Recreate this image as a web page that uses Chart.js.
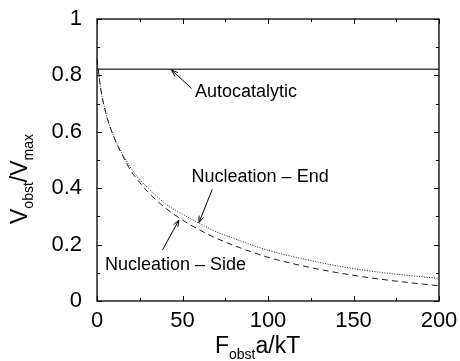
<!DOCTYPE html>
<html>
<head>
<meta charset="utf-8">
<script src="https://cdn.jsdelivr.net/npm/chart.js@4"></script>
<style>
  html, body { margin: 0; padding: 0; background: #fff; }
  #wrap { width: 460px; height: 361px; }
</style>
</head>
<body>
<div id="wrap"><canvas id="chart" width="460" height="361"></canvas></div>
<script>
// Data
const forceX = [0, 2, 5, 10, 15, 20, 25, 30, 40, 50, 60, 70, 80, 90, 100, 120, 140, 160, 180, 200];
const endValues = [0.86, 0.76, 0.67, 0.58, 0.52, 0.47, 0.43, 0.40, 0.345, 0.308, 0.275, 0.245, 0.222, 0.200, 0.180, 0.150, 0.125, 0.106, 0.092, 0.080];
const sideValues = [0.86, 0.76, 0.67, 0.58, 0.515, 0.46, 0.42, 0.385, 0.33, 0.287, 0.252, 0.222, 0.197, 0.175, 0.155, 0.125, 0.101, 0.082, 0.067, 0.054];
const autoX = [0, 200];
const autoValues = [0.822, 0.822];
const xTicks = [0, 50, 100, 150, 200];
const yTicks = [0, 0.2, 0.4, 0.6, 0.8, 1];

// Labels with arrows (data coordinates)
const labels = [
  { text: 'Autocatalytic', x: 57.3, y: 0.724, from: [55.3, 0.754], to: [43.6, 0.819] },
  { text: 'Nucleation \u2013 End', x: 55.3, y: 0.423, from: [67.4, 0.396], to: [59.6, 0.278] },
  { text: 'Nucleation \u2013 Side', x: 4.7, y: 0.11, from: [38.3, 0.181], to: [47.9, 0.287] }
];

const FONT = '"Liberation Sans", Arial, Helvetica, sans-serif';

function pts(xs, ys) {
  return xs.map((x, i) => ({ x: x, y: ys[i] }));
}

// Frame, inward ticks, arrow labels and axis titles (gnuplot look)
const decorPlugin = {
  id: 'decor',
  afterDraw(chart) {
    const ctx = chart.ctx;
    const area = chart.chartArea;
    const xs = chart.scales.x, ys = chart.scales.y;
    ctx.save();
    ctx.strokeStyle = '#000';
    ctx.lineWidth = 1.3;
    ctx.strokeRect(area.left, area.top, area.right - area.left, area.bottom - area.top);

    ctx.lineWidth = 1;
    for (let v = 0; v <= 200; v += 25) {
      const px = Math.round(xs.getPixelForValue(v)) + 0.5;
      const len = v % 50 === 0 ? 5 : 3;
      ctx.beginPath();
      ctx.moveTo(px, area.bottom); ctx.lineTo(px, area.bottom - len);
      ctx.moveTo(px, area.top); ctx.lineTo(px, area.top + len);
      ctx.stroke();
    }
    for (let i = 0; i <= 10; i++) {
      const py = Math.round(ys.getPixelForValue(i / 10)) + 0.5;
      const len = i % 2 === 0 ? 5 : 3;
      ctx.beginPath();
      ctx.moveTo(area.left, py); ctx.lineTo(area.left + len, py);
      ctx.moveTo(area.right, py); ctx.lineTo(area.right - len, py);
      ctx.stroke();
    }

    // labels + arrows
    ctx.fillStyle = '#000';
    ctx.font = '18px ' + FONT;
    ctx.textBaseline = 'alphabetic';
    ctx.textAlign = 'left';
    labels.forEach(l => {
      ctx.fillText(l.text, xs.getPixelForValue(l.x), ys.getPixelForValue(l.y));
      const x1 = xs.getPixelForValue(l.from[0]), y1 = ys.getPixelForValue(l.from[1]);
      const x2 = xs.getPixelForValue(l.to[0]), y2 = ys.getPixelForValue(l.to[1]);
      const ang = Math.atan2(y2 - y1, x2 - x1);
      ctx.lineWidth = 1;
      ctx.beginPath();
      ctx.moveTo(x1, y1); ctx.lineTo(x2, y2);
      ctx.moveTo(x2, y2); ctx.lineTo(x2 - 7 * Math.cos(ang - 0.35), y2 - 7 * Math.sin(ang - 0.35));
      ctx.moveTo(x2, y2); ctx.lineTo(x2 - 7 * Math.cos(ang + 0.35), y2 - 7 * Math.sin(ang + 0.35));
      ctx.stroke();
    });

    // axis titles with subscripts
    function sub(parts, x, y) {
      let cx = x;
      parts.forEach(p => {
        ctx.font = (p.sub ? '14px ' : '23px ') + FONT;
        ctx.fillText(p.t, cx, y + (p.sub ? 6 : 0));
        cx += ctx.measureText(p.t).width;
      });
    }
    sub([{ t: 'F' }, { t: 'obst', sub: true }, { t: 'a/kT' }], 215, 353);

    ctx.translate(27, 224);
    ctx.rotate(-Math.PI / 2);
    sub([{ t: 'V' }, { t: 'obst', sub: true }, { t: '/V' }, { t: 'max', sub: true }], 0, 0);
    ctx.restore();
  }
};

new Chart(document.getElementById('chart'), {
  type: 'line',
  data: {
    datasets: [
      {
        label: 'Autocatalytic',
        data: pts(autoX, autoValues),
        borderColor: '#444',
        borderWidth: 1.4,
        pointRadius: 0
      },
      {
        label: 'Nucleation - End',
        data: pts(forceX, endValues),
        borderColor: '#222',
        borderWidth: 1,
        borderDash: [1, 1.5],
        pointRadius: 0,
        cubicInterpolationMode: 'monotone'
      },
      {
        label: 'Nucleation - Side',
        data: pts(forceX, sideValues),
        borderColor: '#222',
        borderWidth: 1,
        borderDash: [6, 4],
        pointRadius: 0,
        cubicInterpolationMode: 'monotone'
      }
    ]
  },
  options: {
    responsive: false,
    animation: false,
    layout: { padding: { top: 19, right: 21, left: 0, bottom: 0 } },
    plugins: { legend: { display: false }, tooltip: { enabled: false } },
    scales: {
      x: {
        type: 'linear',
        min: 0, max: 200,
        grid: { display: false },
        border: { display: false },
        afterBuildTicks: s => { s.ticks = xTicks.map(v => ({ value: v })); },
        afterFit: s => { s.height = 60; s.paddingRight = 0; s.paddingLeft = 0; },
        ticks: { color: '#000', font: { size: 22, family: FONT }, padding: -1, maxRotation: 0 }
      },
      y: {
        min: 0, max: 1,
        grid: { display: false },
        border: { display: false },
        afterBuildTicks: s => { s.ticks = yTicks.map(v => ({ value: v })); },
        afterFit: s => { s.width = 97; s.paddingTop = 0; s.paddingBottom = 0; },
        ticks: { color: '#000', font: { size: 22, family: FONT }, padding: 7, callback: v => String(v) }
      }
    }
  },
  plugins: [decorPlugin]
});
</script>
</body>
</html>
